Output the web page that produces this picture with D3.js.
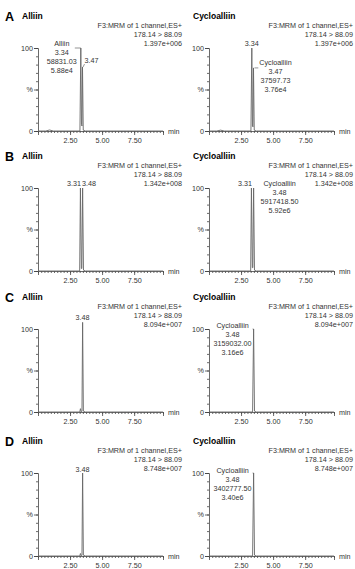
<!DOCTYPE html>
<html>
<head>
<meta charset="utf-8">
<script src="https://cdn.jsdelivr.net/npm/d3@7"></script>
<style>
  body { margin: 0; background: #fff; }
  svg { display: block; font-family: "Liberation Sans", Arial, sans-serif; }
  .small { font-size: 7.2px; fill: #333; }
  .axis path, .axis line { stroke: #444; stroke-width: 0.8; }
  .axis text { font-size: 7.2px; fill: #333; font-family: "Liberation Sans", Arial, sans-serif; }
</style>
</head>
<body>
<div id="chart"></div>
<script>
// panel letters and compounds
var rows = ["A", "B", "C", "D"];
var compounds = ["Alliin", "Cycloalliin"];
var scanInfo = "F3:MRM of 1 channel,ES+";
var transition = "178.14 > 88.09";
var maxIntensity = ["1.397e+006", "1.342e+008", "8.094e+007", "8.748e+007"];

var xTickValues = [2.5, 5, 7.5];
var xTickLabels = ["2.50", "5.00", "7.50"];
var yTickValues = [0, 50, 100];
var yTickLabels = ["0", "%", "100"];

// chromatogram traces, [time (min), relative intensity %]
var traceA1 = [[0, 0], [0.6, 0], [0.9, 1.2], [1.2, 0], [3.27, 0], [3.34, 100], [3.39, 8], [3.43, 6], [3.47, 77], [3.53, 1], [3.7, 0], [9.75, 0]];
var traceA2 = [[0, 0], [0.6, 0], [0.9, 1.0], [1.2, 0], [3.27, 0], [3.34, 100], [3.39, 6], [3.43, 5], [3.47, 76], [3.53, 1], [3.7, 0], [9.75, 0]];
var traceB1 = [[0, 0], [3.25, 0], [3.31, 100], [3.38, 3], [3.42, 3], [3.48, 100], [3.55, 1], [3.7, 0], [9.75, 0]];
var traceB2 = [[0, 0], [3.25, 0], [3.31, 100], [3.38, 4], [3.42, 4], [3.48, 100], [3.55, 1], [3.7, 0], [9.75, 0]];
var traceC1 = [[0, 0], [3.26, 0], [3.31, 4], [3.37, 0], [3.43, 1], [3.48, 108], [3.54, 1], [3.7, 0], [9.75, 0]];
var traceC2 = [[0, 0], [3.4, 0], [3.48, 100], [3.55, 1], [3.7, 0], [9.75, 0]];
var traceD1 = [[0, 0], [3.26, 0], [3.31, 3], [3.37, 0], [3.43, 1], [3.48, 100], [3.54, 1], [3.7, 0], [9.75, 0]];
var traceD2 = [[0, 0], [3.4, 0], [3.48, 100], [3.55, 1], [3.7, 0], [9.75, 0]];
var traces = [[traceA1, traceA2], [traceB1, traceB2], [traceC1, traceC2], [traceD1, traceD2]];

// peak labels: row, column, retention time, apex %, text lines
var peakLabels = [
  [0, 0, 3.34, 100, ["Alliin", "3.34", "58831.03", "5.88e4"]],
  [0, 0, 3.47, 77, ["3.47"]],
  [0, 1, 3.34, 100, ["3.34"]],
  [0, 1, 3.47, 76, ["Cycloalliin", "3.47", "37597.73", "3.76e4"]],
  [1, 0, 3.31, 100, ["3.31"]],
  [1, 0, 3.48, 100, ["3.48"]],
  [1, 1, 3.31, 100, ["3.31"]],
  [1, 1, 3.48, 100, ["Cycloalliin", "3.48", "5917418.50", "5.92e6"]],
  [2, 0, 3.48, 108, ["3.48"]],
  [2, 1, 3.48, 100, ["Cycloalliin", "3.48", "3159032.00", "3.16e6"]],
  [3, 0, 3.48, 100, ["3.48"]],
  [3, 1, 3.48, 100, ["Cycloalliin", "3.48", "3402777.50", "3.40e6"]]
];
// where each label sits relative to its apex (same order as above)
var labelPlace = [
  { dx: -19, dy: -5, anchor: "middle", leader: "left" },
  { dx: 2, dy: -7, anchor: "start", leader: "diag" },
  { dx: 0, dy: -5, anchor: "middle" },
  { dx: 22, dy: -5, anchor: "middle", leader: "right" },
  { dx: 0.5, dy: -5, anchor: "end" },
  { dx: -0.5, dy: -5, anchor: "start" },
  { dx: 0.5, dy: -5, anchor: "end" },
  { dx: 26, dy: -5, anchor: "middle" },
  { dx: 0, dy: -5, anchor: "middle" },
  { dx: -21, dy: -4, anchor: "middle", leader: "left" },
  { dx: 0, dy: -4, anchor: "middle" },
  { dx: -21, dy: -3, anchor: "middle", leader: "left" }
];

var width = 355, height = 569;
var rowTop = [0, 140, 281, 425];
var colLeft = [0, 171];

var x = d3.scaleLinear().domain([0, 9.75]).range([38, 163]);
var y = d3.scaleLinear().domain([0, 100]).range([131, 48]);

var svg = d3.select("#chart").append("svg")
    .attr("width", width)
    .attr("height", height);

var line = d3.line()
    .x(function (d) { return x(d[0]); })
    .y(function (d) { return y(d[1]); });

rows.forEach(function (letter, r) {
    svg.append("text")
        .attr("x", 5)
        .attr("y", rowTop[r] + 21)
        .style("font-size", "12.5px")
        .style("font-weight", "bold")
        .text(letter);

    compounds.forEach(function (name, c) {
        var g = svg.append("g")
            .attr("transform", "translate(" + colLeft[c] + "," + rowTop[r] + ")");

        g.append("text")
            .attr("x", c === 0 ? 22 : 22)
            .attr("y", 19)
            .style("font-size", "8.5px")
            .style("font-weight", "bold")
            .text(name);

        [scanInfo, transition, maxIntensity[r]].forEach(function (t, i) {
            g.append("text")
                .attr("class", "small")
                .attr("x", 182)
                .attr("y", 27.5 + i * 9)
                .attr("text-anchor", "end")
                .text(t);
        });

        // minor ticks
        g.append("g")
            .attr("class", "axis")
            .attr("transform", "translate(0," + y(0) + ")")
            .call(d3.axisBottom(x).tickValues(d3.range(0, 9.76, 0.25)).tickSize(2).tickFormat(""))
            .call(function (a) { a.select(".domain").remove(); });
        g.append("g")
            .attr("class", "axis")
            .attr("transform", "translate(" + x(0) + ",0)")
            .call(d3.axisLeft(y).tickValues(d3.range(0, 101, 10)).tickSize(2).tickFormat(""))
            .call(function (a) { a.select(".domain").remove(); });

        // major ticks + labels
        g.append("g")
            .attr("class", "axis")
            .attr("transform", "translate(0," + y(0) + ")")
            .call(d3.axisBottom(x).tickValues(xTickValues).tickSizeOuter(0).tickSize(4)
                .tickFormat(function (d, i) { return xTickLabels[i]; }));
        g.append("g")
            .attr("class", "axis")
            .attr("transform", "translate(" + x(0) + ",0)")
            .call(d3.axisLeft(y).tickValues(yTickValues).tickSizeOuter(0).tickSize(4)
                .tickFormat(function (d, i) { return yTickLabels[i]; }))
            .call(function (a) { a.selectAll("text").attr("x", -5); });

        g.append("text")
            .attr("class", "small")
            .attr("x", x.range()[1] + 5)
            .attr("y", y(0) + 2.5)
            .text("min");

        g.append("path")
            .datum(traces[r][c])
            .attr("d", line)
            .attr("fill", "none")
            .attr("stroke", "#666")
            .attr("stroke-width", 0.9);
    });
});

// peak annotations
peakLabels.forEach(function (p, i) {
    var place = labelPlace[i];
    var ox = colLeft[p[1]], oy = rowTop[p[0]];
    var px = ox + x(p[2]), py = oy + y(p[3]);
    var tx = px + place.dx, ty = py + place.dy;

    var txt = svg.append("text")
        .attr("class", "small")
        .attr("text-anchor", place.anchor);
    p[4].forEach(function (s, k) {
        txt.append("tspan")
            .attr("x", tx)
            .attr("y", ty + 2.5 + k * 9)
            .text(s);
    });

    if (place.leader) {
        var w = txt.node().getBBox().width;
        var l;
        if (place.leader === "left") {
            l = [[tx + w / 2 + 1, py], [px, py]];
            if (place.dy < -4) l = [[tx + 13, py], [px, py]];
        } else if (place.leader === "right") {
            l = [[px + 1, py], [tx - w / 2 - 1, py]];
        } else {
            l = [[px + 0.5, py], [tx, ty + 4]];
        }
        svg.append("path")
            .attr("d", d3.line()(l))
            .attr("stroke", "#666")
            .attr("stroke-width", 0.7)
            .attr("fill", "none");
    }
});
</script>
</body>
</html>
